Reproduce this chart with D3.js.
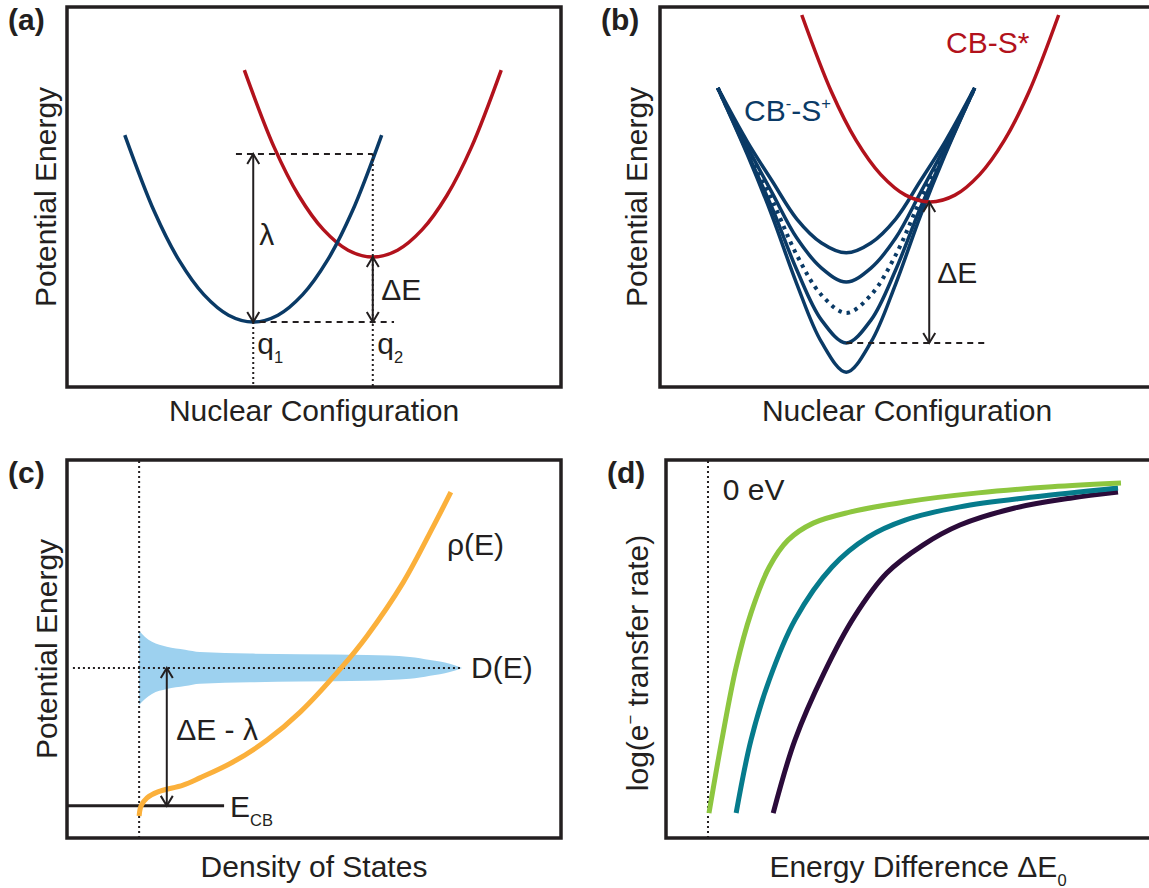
<!DOCTYPE html>
<html>
  <head>
    <meta http-equiv="Content-Type" content="text/html;charset=utf-8"/>
    <title>Marcus schematic</title>
    <script src="https://d3js.org/d3.v7.min.js"></script>
    <style>
      body { margin: 0; background: #fff; }
      text { font-family: "Liberation Sans", Arial, sans-serif; fill: #231f20; }
    </style>
  </head>
  <body>
    <div id="content"></div>
    <script type="text/javascript">

        // ---- shared harmonic well (offsets from the well minimum) ----
        const wellDq   = [-26, -20, -15, -10, -5, 0, 5, 10, 15, 20, 26]
        const wellRise = [49.2, 29, 16.2, 7.2, 1.8, 0, 1.8, 7.2, 16.2, 29, 49.2]

        // ---- panel (a) ----
        const aCenters = [37.7, 61.9]      // q1, q2
        const aMinima  = [17.1, 34.2]      // donor, acceptor minimum
        const aLambdaTop = 61.3

        // ---- panel (b) ----
        const bRedCenter = 54.7, bRedMin = 48.7
        const bBlueCenter = 37.7
        const bDq = [-26, -20, -15, -10, -5, 0, 5, 10, 15, 20, 26]
        const bBlueWells = [
            [78.7, 64.5, 54.2, 44.2, 37.9, 35.3, 37.9, 44.2, 54.2, 64.5, 78.7],
            [78.7, 63.2, 51.1, 39.2, 31.3, 27.6, 31.3, 39.2, 51.1, 63.2, 78.7],
            [78.7, 62.4, 49.2, 34.7, 24.2, 19.5, 24.2, 34.7, 49.2, 62.4, 78.7],
            [78.7, 61.6, 47.1, 30.8, 17.6, 11.6, 17.6, 30.8, 47.1, 61.6, 78.7],
            [78.7, 61.1, 45.0, 27.1, 11.8, 3.9, 11.8, 27.1, 45.0, 61.1, 78.7]
        ]
        const bDottedIndex = 2
        const bArrowQ = 54.5
        const bDashEnd = 66

        // ---- panel (c) ----
        const cDosZero = 14.6, cEcb = 8.5, cDCenter = 45, cArrowX = 20.2
        const cRhoDos = [14.6, 15, 16.2, 18.4, 23.5, 26.9, 33.6, 40.5, 47.2, 55.5, 60.7, 68, 74.1, 77.7]
        const cRhoE   = [5.8, 8.5, 10.6, 12.2, 14, 15.9, 20.1, 25.9, 33.3, 45, 53.4, 67.5, 82.3, 91.5]
        const cDDos   = [14.6, 15.8, 17.2, 20.2, 23.9, 26.9, 37, 47.2, 60.7, 69.4, 73.5, 77.5, 80]
        const cDHalf  = [9.8, 8.2, 6.9, 5.6, 4.8, 4.2, 3.8, 3.6, 3.4, 2.9, 2.1, 1.1, 0]

        // ---- panel (d) ----
        const dZero = 8.5
        const dGreenX  = [8.7, 11.3, 14.2, 17.2, 20.9, 24.7, 29.8, 37.2, 48.4, 63.2, 78.1, 92.1]
        const dGreenY  = [6.6, 25.9, 45.2, 59.5, 71.7, 78.8, 83.3, 86.2, 88.9, 91.3, 92.9, 93.9]
        const dTealX   = [14.2, 17.2, 20.9, 26.1, 33.6, 40.9, 48.4, 59.5, 74.3, 91.5]
        const dTealY   = [6.6, 25.9, 41.8, 57.7, 71.7, 79.6, 84.1, 87.6, 90.2, 92.6]
        const dPurpleX = [21.7, 26.1, 32, 38.1, 44.7, 52, 59.5, 70.6, 81.8, 91.5]
        const dPurpleY = [6.6, 25.9, 43.7, 58.5, 70.1, 77.5, 82.8, 87.3, 89.9, 91.5]

        const ink = '#231f20', navy = '#0a3a66', crimson = '#b2121c'

        const svg = d3.select('#content').append('svg')
            .attr('width', 1149).attr('height', 888)
            .style('display', 'block').style('background', '#fff')

        function makePanel(left, top, w, h) {
            return {
                left, top, w, h,
                x: d3.scaleLinear().domain([0, 100]).range([left, left + w]),
                y: d3.scaleLinear().domain([0, 100]).range([top + h, top]),
                g: svg.append('g')
            }
        }
        const pa = makePanel(67, 7, 494, 380)
        const pb = makePanel(660, 7, 494, 380)
        const pc = makePanel(67, 460, 494, 378)
        const pd = makePanel(666, 460, 494, 378)

        const lineFor = p => d3.line()
            .x(d => p.x(d[0])).y(d => p.y(d[1]))
            .curve(d3.curveCatmullRom.alpha(0.5))

        function curve(p, pts, color, width, dash) {
            p.g.append('path')
                .attr('d', lineFor(p)(pts))
                .attr('fill', 'none')
                .attr('stroke', color)
                .attr('stroke-width', width)
                .attr('stroke-dasharray', dash || null)
        }

        function seg(p, x1, y1, x2, y2, style) {
            const dash = { dotted: '2,3', dashed: '6,5', solid: null }[style]
            p.g.append('line')
                .attr('x1', p.x(x1)).attr('y1', p.y(y1))
                .attr('x2', p.x(x2)).attr('y2', p.y(y2))
                .attr('stroke', ink)
                .attr('stroke-width', style === 'solid' ? 3 : 2)
                .attr('stroke-dasharray', dash)
        }

        function vArrow(p, xv, y1, y2) {
            const px = p.x(xv), a = p.y(y1), b = p.y(y2)
            const head = 10, half = 6
            p.g.append('line').attr('x1', px).attr('x2', px).attr('y1', a).attr('y2', b)
                .attr('stroke', ink).attr('stroke-width', 2)
            ;[[a, Math.sign(b - a)], [b, Math.sign(a - b)]].forEach(([tip, dir]) => {
                p.g.append('path')
                    .attr('d', `M${px - half},${tip + dir * head}L${px},${tip}L${px + half},${tip + dir * head}`)
                    .attr('fill', 'none').attr('stroke', ink).attr('stroke-width', 2)
            })
        }

        // parts: strings or [text, 'sub'|'sup']
        function rich(sel, parts, size) {
            let shift = 0
            parts.forEach(part => {
                const [txt, kind] = typeof part === 'string' ? [part, null] : part
                const target = kind === 'sub' ? 0.3 * size : kind === 'sup' ? -0.4 * size : 0
                sel.append('tspan')
                    .attr('dy', target - shift)
                    .attr('font-size', kind ? size * 0.55 : size)
                    .text(txt)
                shift = target
            })
            return sel
        }

        function label(p, xv, yv, parts, size, color) {
            const t = p.g.append('text').attr('x', p.x(xv)).attr('y', p.y(yv))
                .style('fill', color || ink)
            rich(t, parts, size)
        }

        function titles(p, letter, xTitle, yTitle, yTitleX, yTitleShift, xTitleBase, xTitleShift) {
            svg.append('text').attr('x', p.left - 59).attr('y', p.top + 23)
                .attr('font-size', 30).attr('font-weight', 'bold').text(letter)
            const xt = svg.append('text')
                .attr('x', p.left + p.w / 2 + (xTitleShift || 0)).attr('y', p.top + p.h + xTitleBase)
                .attr('text-anchor', 'middle')
            rich(xt, xTitle, 30)
            const yt = svg.append('text')
                .attr('transform', `translate(${p.left - yTitleX},${p.top + p.h / 2 + (yTitleShift || 0)}) rotate(-90)`)
                .attr('text-anchor', 'middle')
            rich(yt, yTitle, 30)
        }

        function frame(p) {
            svg.append('rect')
                .attr('x', p.left).attr('y', p.top).attr('width', p.w).attr('height', p.h)
                .attr('fill', 'none').attr('stroke', ink).attr('stroke-width', 3.5)
        }

        const well = (c, m) => wellDq.map((dq, i) => [c + dq, m + wellRise[i]])

        // ---------- (a) ----------
        curve(pa, well(aCenters[1], aMinima[1]), crimson, 3.5)
        curve(pa, well(aCenters[0], aMinima[0]), navy, 3.5)
        seg(pa, 34.2, aLambdaTop, aCenters[1], aLambdaTop, 'dashed')
        seg(pa, 39, aMinima[0], 66.2, aMinima[0], 'dashed')
        seg(pa, aCenters[0], aMinima[0], aCenters[0], 0, 'dotted')
        seg(pa, aCenters[1], aLambdaTop, aCenters[1], 0, 'dotted')
        vArrow(pa, aCenters[0], aMinima[0], aLambdaTop)
        vArrow(pa, aCenters[1], aMinima[0], aMinima[1])
        label(pa, 38.9, 37.4, ['λ'], 30)
        label(pa, 63.6, 22.9, ['ΔE'], 30)
        label(pa, 38.5, 8.7, ['q', ['1', 'sub']], 30)
        label(pa, 62.8, 8.7, ['q', ['2', 'sub']], 30)

        // ---------- (b) ----------
        bBlueWells.forEach((es, k) => {
            const pts = bDq.map((dq, i) => [bBlueCenter + dq, es[i]])
            curve(pb, pts, navy, k === bDottedIndex ? 4 : 3.5, k === bDottedIndex ? '3.5,5' : null)
        })
        curve(pb, well(bRedCenter, bRedMin), crimson, 3.5)
        seg(pb, bBlueCenter, bBlueWells[3][5], bDashEnd, bBlueWells[3][5], 'dashed')
        vArrow(pb, bArrowQ, bBlueWells[3][5], bRedMin)
        label(pb, 56.1, 27.4, ['ΔE'], 30)
        label(pb, 57.9, 87.9, ['CB-S*'], 30, crimson)
        label(pb, 17, 70, ['CB', ['-', 'sup'], '-S', ['+', 'sup']], 30, navy)

        // ---------- (c) ----------
        const dPts = cDDos.map((x, i) => [x, cDHalf[i]])
        pc.g.append('path')
            .attr('d', d3.area()
                .x(d => pc.x(d[0]))
                .y0(d => pc.y(cDCenter - d[1]))
                .y1(d => pc.y(cDCenter + d[1]))
                .curve(d3.curveMonotoneX)(dPts))
            .attr('fill', '#9dd1ef')
        seg(pc, cDosZero, 0, cDosZero, 100, 'dotted')
        seg(pc, 1.2, cDCenter, 80, cDCenter, 'dotted')
        seg(pc, 0, cEcb, 31.8, cEcb, 'solid')
        curve(pc, cRhoDos.map((x, i) => [x, cRhoE[i]]), '#fbb03b', 5)
        vArrow(pc, cArrowX, cEcb, cDCenter)
        label(pc, 76.9, 74.9, ['ρ(E)'], 30)
        label(pc, 81.8, 42.3, ['D(E)'], 30)
        label(pc, 22.1, 25.9, ['ΔE - λ'], 30)
        label(pc, 33, 5.6, ['E', ['CB', 'sub']], 30)

        // ---------- (d) ----------
        seg(pd, dZero, 0, dZero, 100, 'dotted')
        const dLine = (xs, ys, color) => pd.g.append('path')
            .attr('d', lineFor(pd)(xs.map((x, i) => [x, ys[i]])))
            .attr('fill', 'none').attr('stroke', color).attr('stroke-width', 5)
        dLine(dPurpleX, dPurpleY, '#2b0b3a')
        dLine(dTealX, dTealY, '#067b8c')
        dLine(dGreenX, dGreenY, '#8dc63f')
        label(pd, 11.5, 89.4, ['0 eV'], 30)

        // ---------- frames & titles ----------
        ;[pa, pb, pc, pd].forEach(frame)
        titles(pa, '(a)', ['Nuclear Configuration'], ['Potential Energy'], 11, 0, 34)
        titles(pb, '(b)', ['Nuclear Configuration'], ['Potential Energy'], 13, 0, 34)
        titles(pc, '(c)', ['Density of States'], ['Potential Energy'], 10, 0, 39)
        titles(pd, '(d)', ['Energy Difference ΔE', ['0', 'sub']], ['log(e', ['−', 'sup'], ' transfer rate)'], 18, 14, 39, 5)

    </script>
  </body>
</html>
